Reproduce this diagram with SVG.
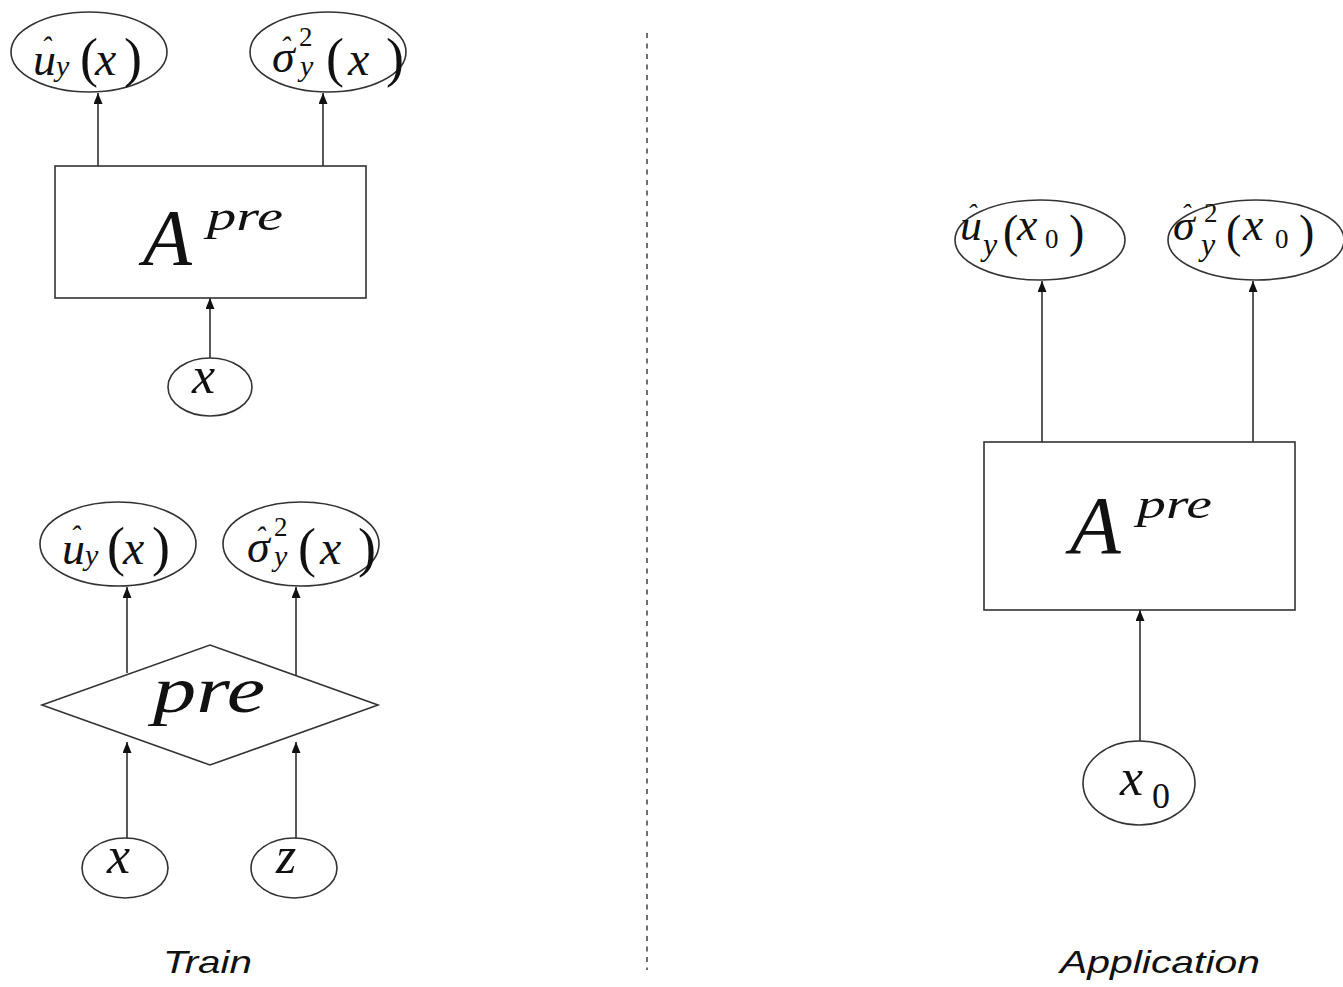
<svg xmlns="http://www.w3.org/2000/svg" width="1343" height="987" viewBox="0 0 1343 987">
  <defs>
    <marker id="arr" markerUnits="userSpaceOnUse" markerWidth="11" markerHeight="10" refX="11" refY="4.5" orient="auto">
      <path d="M0,0 L11,4.5 L0,9 z" fill="#111"/>
    </marker>
    <style>
      .shape { fill: #fff; stroke: #333; stroke-width: 1.6; }
      .edge { fill: none; stroke: #222; stroke-width: 1.5; marker-end: url(#arr); }
      .divider { fill: none; stroke: #333; stroke-width: 1.4; stroke-dasharray: 5 5.5; }
      .mi { font-family: "Liberation Serif", "Times New Roman", serif; font-style: italic; fill: #111; }
      .mr { font-family: "Liberation Serif", "Times New Roman", serif; font-style: normal; fill: #111; }
      .cap { font-family: "Liberation Sans", Arial, sans-serif; font-style: italic; font-size: 32px; fill: #111; }
    </style>
  </defs>
  <rect width="1343" height="987" fill="#fff"/>

  <!-- connectors -->
  <g id="connectors">
    <line class="edge" x1="98" y1="166" x2="98" y2="93"/>
    <line class="edge" x1="323" y1="166" x2="323" y2="93"/>
    <line class="edge" x1="210" y1="358" x2="210" y2="298"/>
    <line class="edge" x1="127" y1="673" x2="127" y2="587"/>
    <line class="edge" x1="296" y1="675" x2="296" y2="587"/>
    <line class="edge" x1="127" y1="838" x2="127" y2="742"/>
    <line class="edge" x1="296" y1="838" x2="296" y2="742"/>
    <line class="edge" x1="1042" y1="442" x2="1042" y2="281"/>
    <line class="edge" x1="1253" y1="442" x2="1253" y2="281"/>
    <line class="edge" x1="1140" y1="742" x2="1140" y2="610"/>
    <line class="divider" x1="647" y1="33" x2="647" y2="970"/>
  </g>

  <!-- training: pre-trained model -->
  <g id="train-mean-out">
    <ellipse class="shape" cx="89" cy="52" rx="78" ry="40"/>
    <text class="mi" font-size="46"><tspan x="33" y="75">u</tspan><tspan x="41" y="57" font-size="30">ˆ</tspan><tspan x="56" y="76" font-size="30">y</tspan><tspan class="mr" x="80" y="76" font-size="54">(</tspan><tspan x="95" y="75" font-size="48">x</tspan><tspan class="mr" x="124" y="76" font-size="54">)</tspan></text>
  </g>
  <g id="train-var-out">
    <ellipse class="shape" cx="328" cy="52" rx="78" ry="40"/>
    <text class="mi" font-size="46"><tspan x="272" y="72">σ</tspan><tspan x="280" y="57" font-size="30">ˆ</tspan><tspan class="mr" x="299" y="46" font-size="27">2</tspan><tspan x="300" y="76" font-size="30">y</tspan><tspan class="mr" x="326" y="76" font-size="54">(</tspan><tspan x="348" y="75" font-size="48">x</tspan><tspan class="mr" x="386" y="76" font-size="54">)</tspan></text>
  </g>
  <g id="train-model">
    <rect class="shape" x="55" y="166" width="311" height="132"/>
    <text class="mi" x="143" y="265" font-size="80">A</text>
    <text class="mi" x="207" y="230" font-size="42" textLength="76" lengthAdjust="spacingAndGlyphs">pre</text>
  </g>
  <g id="train-input">
    <ellipse class="shape" cx="210" cy="387" rx="42" ry="29"/>
    <text class="mi" x="192" y="393" font-size="52">x</text>
  </g>

  <!-- training: predictor -->
  <g id="pred-mean-out">
    <ellipse class="shape" cx="118" cy="544" rx="78" ry="42"/>
    <text class="mi" font-size="46"><tspan x="62" y="564">u</tspan><tspan x="70" y="546" font-size="30">ˆ</tspan><tspan x="85" y="565" font-size="30">y</tspan><tspan class="mr" x="107" y="565" font-size="54">(</tspan><tspan x="123" y="564" font-size="48">x</tspan><tspan class="mr" x="152" y="565" font-size="54">)</tspan></text>
  </g>
  <g id="pred-var-out">
    <ellipse class="shape" cx="301" cy="544" rx="78" ry="42"/>
    <text class="mi" font-size="46"><tspan x="247" y="562">σ</tspan><tspan x="255" y="547" font-size="30">ˆ</tspan><tspan class="mr" x="274" y="536" font-size="27">2</tspan><tspan x="274" y="566" font-size="30">y</tspan><tspan class="mr" x="298" y="566" font-size="54">(</tspan><tspan x="320" y="564" font-size="48">x</tspan><tspan class="mr" x="358" y="566" font-size="54">)</tspan></text>
  </g>
  <g id="pred">
    <polygon class="shape" points="42,705 210,645 378,705 210,765"/>
    <text class="mi" x="153" y="712" font-size="66" textLength="112" lengthAdjust="spacingAndGlyphs">pre</text>
  </g>
  <g id="pred-x">
    <ellipse class="shape" cx="125" cy="868" rx="43" ry="30"/>
    <text class="mi" x="107" y="873" font-size="52">x</text>
  </g>
  <g id="pred-z">
    <ellipse class="shape" cx="294" cy="868" rx="43" ry="30"/>
    <text class="mi" x="276" y="873" font-size="52">z</text>
  </g>

  <!-- application -->
  <g id="app-mean-out">
    <ellipse class="shape" cx="1040" cy="240" rx="85" ry="40"/>
    <text class="mi" font-size="44"><tspan x="960" y="240">u</tspan><tspan x="967" y="223" font-size="28">ˆ</tspan><tspan x="983" y="255" font-size="32">y</tspan><tspan class="mr" x="1003" y="247" font-size="46">(</tspan><tspan x="1017" y="240" font-size="46">x</tspan><tspan class="mr" x="1045" y="248" font-size="27">0</tspan><tspan class="mr" x="1069" y="247" font-size="46">)</tspan></text>
  </g>
  <g id="app-var-out">
    <ellipse class="shape" cx="1256" cy="240" rx="88" ry="40"/>
    <text class="mi" font-size="44"><tspan x="1173" y="240">σ</tspan><tspan x="1181" y="223" font-size="28">ˆ</tspan><tspan class="mr" x="1204" y="222" font-size="27">2</tspan><tspan x="1201" y="255" font-size="32">y</tspan><tspan class="mr" x="1226" y="247" font-size="46">(</tspan><tspan x="1243" y="240" font-size="46">x</tspan><tspan class="mr" x="1275" y="248" font-size="27">0</tspan><tspan class="mr" x="1299" y="247" font-size="46">)</tspan></text>
  </g>
  <g id="app-model">
    <rect class="shape" x="984" y="442" width="311" height="168"/>
    <text class="mi" x="1070" y="553" font-size="83">A</text>
    <text class="mi" x="1137" y="518" font-size="42" textLength="75" lengthAdjust="spacingAndGlyphs">pre</text>
  </g>
  <g id="app-input">
    <ellipse class="shape" cx="1139" cy="783" rx="56" ry="42"/>
    <text class="mi" font-size="52"><tspan x="1120" y="795">x</tspan><tspan class="mr" x="1152" y="808" font-size="36">0</tspan></text>
  </g>

  <!-- captions -->
  <g id="captions">
    <text class="cap" x="163" y="973" textLength="89" lengthAdjust="spacingAndGlyphs">Train</text>
    <text class="cap" x="1060" y="973" textLength="200" lengthAdjust="spacingAndGlyphs">Application</text>
  </g>
</svg>
